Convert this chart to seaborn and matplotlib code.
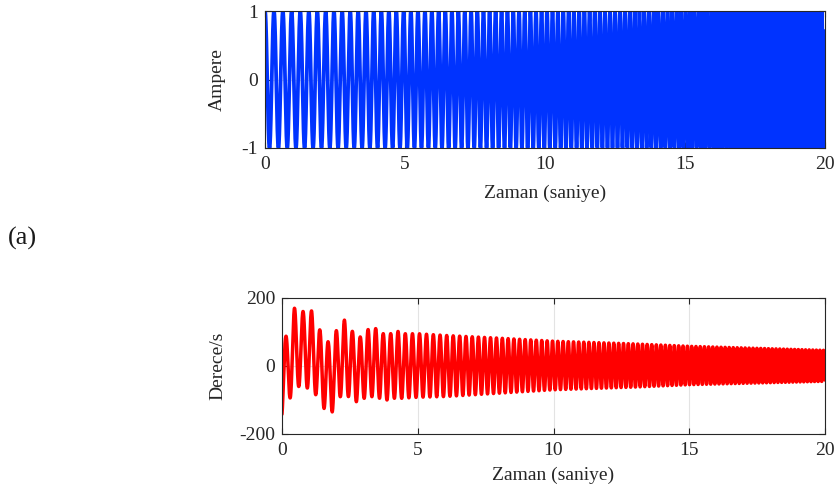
import numpy as np
import matplotlib
matplotlib.use("Agg")
import matplotlib.pyplot as plt
import seaborn as sns

# Sweep frequency (Hz) read at a few times (s) along the time axis
freq_t = [0, 2.5, 5, 7.5, 10, 12.5, 15, 17.5, 20]
freq_hz = [3.1, 3.4, 3.85, 4.5, 5.1, 5.6, 6.3, 7.0, 7.7]

# Input current amplitude (Ampere)
current_amp = 1.0

# Response envelope (Derece/s): upper peaks and lower troughs
upper_t = [0.0, 0.135, 0.454, 0.786, 1.09, 1.40, 1.71, 2.01, 2.30, 2.59, 2.89,
           3.18, 3.45, 3.73, 4.00, 4.26, 4.53, 5.0, 6.0, 8.0, 10.0, 13.0, 15.0, 20.0]
upper_v = [85, 85, 170, 160, 162, 105, 70, 105, 135, 102, 85,
           108, 110, 95, 95, 102, 95, 95, 90, 82, 73, 65, 58, 46]
lower_t = [0.0, 0.29, 0.62, 0.94, 1.25, 1.55, 1.85, 2.15, 2.45, 2.74, 3.03,
           3.30, 3.60, 3.86, 4.13, 4.40, 5.0, 6.0, 8.0, 10.0, 13.0, 15.0, 20.0]
lower_v = [-150, -95, -60, -65, -85, -125, -135, -90, -90, -105, -95,
           -90, -95, -100, -95, -95, -92, -90, -80, -70, -62, -55, -45]
lag_cycles = 0.44

t = np.linspace(0, 20, 24001)
f = np.interp(t, freq_t, freq_hz)
phase = np.concatenate([[0], np.cumsum((f[1:] + f[:-1]) / 2 * np.diff(t))])
current = current_amp * np.cos(2 * np.pi * phase)

up = np.interp(t, upper_t, upper_v)
lo = np.interp(t, lower_t, lower_v)
rate = (up + lo) / 2 + (up - lo) / 2 * np.cos(2 * np.pi * (phase - lag_cycles))

sns.set_theme(style="ticks")
plt.rcParams["font.family"] = ["Liberation Serif", "DejaVu Serif"]
plt.rcParams["axes.unicode_minus"] = False

fig = plt.figure(figsize=(8.35, 4.92), dpi=100)
ax1 = fig.add_axes([265 / 835, 1 - 148 / 492, 560 / 835, 137 / 492])
ax2 = fig.add_axes([282 / 835, 1 - 434 / 492, 543 / 835, 136 / 492])

sns.lineplot(x=t, y=current, ax=ax1, color="#0033ff", linewidth=2.7,
             estimator=None, sort=False)
sns.lineplot(x=t, y=rate, ax=ax2, color="#ff0000", linewidth=2.5,
             estimator=None, sort=False)

for ax, yt, lab, lx in [(ax1, [-1, 0, 1], "Ampere", (226 - 265) / 560),
                        (ax2, [-200, 0, 200], "Derece/s", (226 - 282) / 543)]:
    ax.set_xlim(0, 20)
    ax.set_xticks([0, 5, 10, 15, 20])
    ax.set_yticks(yt)
    ax.set_ylim(yt[0], yt[-1])
    ax.set_xlabel("Zaman (saniye)", fontsize=14)
    ax.set_ylabel(lab, fontsize=14)
    ax.yaxis.set_label_coords(lx, 0.5)
    ax.grid(True, color="#e3e3e3", linewidth=0.8)
    ax.set_axisbelow(True)
    ax.tick_params(direction="in", length=4, width=0.8, top=True, right=True,
                   labelsize=14, colors="#262626")
    ax.tick_params(axis="x", pad=6)
    ax.tick_params(axis="y", pad=5)
    for s in ax.spines.values():
        s.set_visible(True)
        s.set_color("#262626")
        s.set_linewidth(0.8)

ax1.xaxis.set_label_coords(0.5, -(185 - 148) / 137)
ax2.xaxis.set_label_coords(0.5, -(467 - 434) / 136)

fig.text(8 / 835, 1 - 238 / 492, "(a)", fontsize=19, va="center", ha="left",
         color="#1a1a1a")

fig.savefig("out.png", dpi=100)
